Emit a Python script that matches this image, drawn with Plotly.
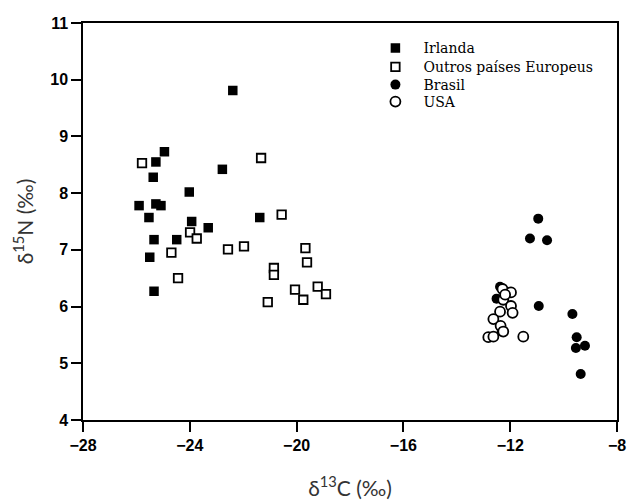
import plotly.graph_objects as go

# Irlanda (filled squares)
irl_x = [-22.39, -24.95, -25.27, -25.37, -22.78, -24.02, -25.90, -25.27, -25.08,
         -25.53, -21.38, -23.93, -23.31, -24.49, -25.34, -25.50, -25.34]
irl_y = [9.81, 8.73, 8.55, 8.28, 8.42, 8.02, 7.78, 7.81, 7.78,
         7.57, 7.57, 7.50, 7.39, 7.18, 7.18, 6.87, 6.27]

# Outros países Europeus (open squares)
eur_x = [-25.79, -21.33, -20.56, -23.99, -23.74, -24.69, -22.57, -21.97, -24.44,
         -19.67, -19.61, -20.85, -20.85, -21.08, -20.06, -19.75, -19.21, -18.90]
eur_y = [8.53, 8.62, 7.62, 7.31, 7.20, 6.95, 7.01, 7.06, 6.50,
         7.03, 6.78, 6.68, 6.56, 6.08, 6.30, 6.12, 6.35, 6.22]

# Brasil (filled circles)
bra_x = [-10.95, -11.26, -10.62, -10.93, -9.67, -9.51, -9.54, -9.20, -9.36,
         -12.38, -12.51, -12.32]
bra_y = [7.55, 7.20, 7.17, 6.01, 5.87, 5.46, 5.27, 5.31, 4.81,
         6.35, 6.14, 5.56]

# USA (open circles)
usa_x = [-12.29, -11.97, -12.26, -11.97, -12.38, -11.91, -12.63, -12.36, -12.26,
         -12.82, -12.63, -11.51, -12.19]
usa_y = [6.31, 6.25, 6.12, 6.01, 5.91, 5.89, 5.78, 5.66, 5.56,
         5.46, 5.47, 5.47, 6.21]

x_ticks = [-28, -24, -20, -16, -12, -8]
y_ticks = [4, 5, 6, 7, 8, 9, 10, 11]

fig = go.Figure()
fig.add_trace(go.Scatter(x=bra_x, y=bra_y, mode="markers", name="Brasil", legend="legend3",
                         showlegend=True,
                         marker=dict(symbol="circle", size=10, color="black")))
fig.add_trace(go.Scatter(x=usa_x, y=usa_y, mode="markers", name="USA", legend="legend4",
                         showlegend=True,
                         marker=dict(symbol="circle", size=10, color="white",
                                     line=dict(color="black", width=1.8))))
fig.add_trace(go.Scatter(x=eur_x, y=eur_y, mode="markers", name="Outros países Europeus",
                         legend="legend2", showlegend=True,
                         marker=dict(symbol="square", size=8.5, color="white",
                                     line=dict(color="black", width=1.8))))
fig.add_trace(go.Scatter(x=irl_x, y=irl_y, mode="markers", name="Irlanda", legend="legend",
                         showlegend=True,
                         marker=dict(symbol="square", size=9.5, color="black")))

axis_common = dict(showline=True, linecolor="black", linewidth=1.5, mirror=True,
                   ticks="outside", ticklen=10, tickwidth=1.5, tickcolor="black",
                   showgrid=False, zeroline=False, automargin=False,
                   tickfont=dict(family="Liberation Sans, Arial", size=16, color="black",
                                 weight="bold"))

title_font = dict(family="Lato, Open Sans, sans-serif", size=21, color="#333")
fig.update_xaxes(range=[-28, -8], tickvals=x_ticks, **axis_common,
                 title=dict(text="δ<sup>13</sup>C (‰)", font=title_font, standoff=28))
fig.update_yaxes(range=[4, 11], tickvals=y_ticks, **axis_common,
                 title=dict(text="δ<sup>15</sup>N (‰)", font=title_font, standoff=11))

plot_top, plot_bottom = 23, 420
plot_h = plot_bottom - plot_top
row_px = [48.3, 67.2, 85.0, 102.0]
leg_font = dict(family="DejaVu Serif", size=14, color="black")


def leg(py):
    return dict(x=0.5326, y=(plot_bottom - py) / plot_h, xanchor="left", yanchor="middle",
                bgcolor="rgba(0,0,0,0)", itemwidth=46, borderwidth=0, font=leg_font)


fig.update_layout(
    width=627, height=502,
    showlegend=True,
    margin=dict(l=83, r=10, t=23, b=82),
    plot_bgcolor="white", paper_bgcolor="white",
    legend=leg(row_px[0]), legend2=leg(row_px[1]),
    legend3=leg(row_px[2]), legend4=leg(row_px[3]),
)

fig.write_html("out.html", config={"displayModeBar": False},
               post_script="document.body.style.margin='0';document.body.style.overflow='hidden';")
